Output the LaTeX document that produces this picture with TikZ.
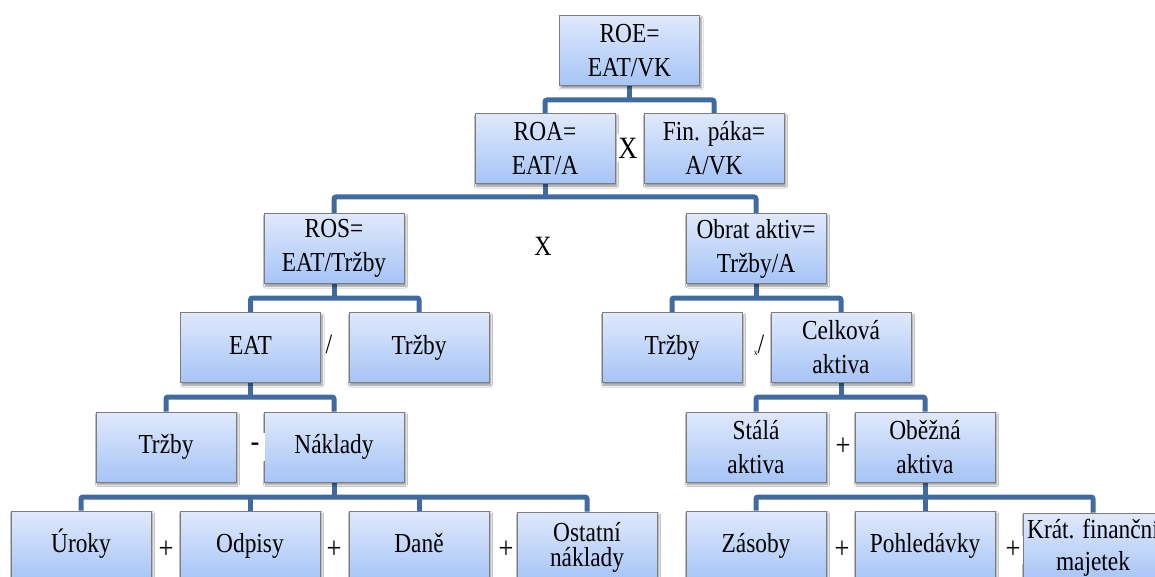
\documentclass[tikz,border=0pt]{standalone}
\usepackage{fontspec}
\setmainfont{Liberation Serif}[FakeStretch=0.85]
\usetikzlibrary{shadows.blur,backgrounds}

\definecolor{linkblue}{RGB}{64,107,160}
\definecolor{boxtop}{RGB}{224,233,252}
\definecolor{boxbot}{RGB}{166,196,246}
\definecolor{boxedge}{RGB}{125,125,125}

\tikzset{
  ratio/.style={draw=boxedge, line width=0.9pt, top color=boxtop, bottom color=boxbot,
    minimum width=140pt, minimum height=70pt, inner sep=2pt, align=center,
    font=\fontsize{27.5}{34}\selectfont,
    blur shadow={shadow xshift=1.5pt, shadow yshift=-2.5pt, shadow blur steps=6,
      shadow blur radius=2pt, shadow opacity=45}},
  oneline/.style={ratio, text height=19pt, text depth=6pt},
  link/.style={draw=linkblue, line width=5pt, rounded corners=2pt},
  op/.style={font=\fontsize{31}{31}\selectfont, inner sep=1pt, fill=white,
    minimum width=20pt, minimum height=28pt}
}

\begin{document}
\begin{tikzpicture}[x=1pt, y=-1pt]
\useasboundingbox (0,0) rectangle (1155,577);

% level 0 and 1
\node[ratio] (roe) at (629.5,50.5) {ROE=\\EAT/VK};
\node[ratio] (roa) at (545,148.5) {ROA=\\EAT/A};
\node[ratio] (fin) at (714,148.5) {Fin. páka=\\A/VK};

% level 2
\node[ratio] (ros) at (334,248.5) {ROS=\\EAT/Tržby};
\node[ratio] (obrat) at (756,248.5) {Obrat aktiv=\\Tržby/A};

% level 3
\node[oneline] (eat) at (250.5,347.5) {EAT};
\node[oneline] (trzbyA) at (419,347.5) {Tržby};
\node[oneline] (trzbyB) at (672,347.5) {Tržby};
\node[ratio] (celk) at (841,347.5) {Celková\\aktiva};

% level 4
\node[oneline] (trzbyC) at (166,447) {Tržby};
\node[oneline] (nakl) at (334,447) {Náklady};
\node[ratio] (stala) at (756,447) {Stálá\\aktiva};
\node[ratio] (obez) at (925,447) {Oběžná\\aktiva};

% level 5
\node[oneline] (uroky) at (81,546) {Úroky};
\node[oneline] (odpisy) at (250,546) {Odpisy};
\node[oneline] (dane) at (419,546) {Daně};
\node[ratio, font=\fontsize{27.5}{25}\selectfont] (ostatni) at (587,547) {Ostatní\\náklady};
\node[oneline] (zasoby) at (756,546) {Zásoby};
\node[oneline] (pohl) at (925,546) {Pohledávky};
\node[ratio, font=\fontsize{27.5}{32}\selectfont] (krat) at (1093,548) {Krát. finanční\\majetek};

% bus junctions
\coordinate (b1) at (629.5,100);
\coordinate (b2) at (545,197);
\coordinate (b3) at (334,298);
\coordinate (b4) at (756,298);
\coordinate (b5) at (250.5,397);
\coordinate (b6) at (841,397);
\coordinate (b7) at (334,497);
\coordinate (b8) at (925,497);

\begin{scope}[on background layer]
  \fill[white] (0,0) rectangle (1155,577);
  \draw[link] (roe.south) -- (b1);
  \draw[link] (roa.north) |- (b1) -| (fin.north);
  \draw[link] (roa.south) -- (b2);
  \draw[link] (ros.north) |- (b2) -| (obrat.north);
  \draw[link] (ros.south) -- (b3);
  \draw[link] (eat.north) |- (b3) -| (trzbyA.north);
  \draw[link] (obrat.south) -- (b4);
  \draw[link] (trzbyB.north) |- (b4) -| (celk.north);
  \draw[link] (eat.south) -- (b5);
  \draw[link] (trzbyC.north) |- (b5) -| (nakl.north);
  \draw[link] (celk.south) -- (b6);
  \draw[link] (stala.north) |- (b6) -| (obez.north);
  \draw[link] (nakl.south) -- (b7);
  \draw[link] (uroky.north) |- (b7) -| (ostatni.north);
  \draw[link] (odpisy.north) -- (odpisy.north |- b7);
  \draw[link] (dane.north) -- (dane.north |- b7);
  \draw[link] (obez.south) -- (b8);
  \draw[link] (zasoby.north) |- (b8) -| (krat.north);
  \draw[link] (pohl.north) -- (pohl.north |- b8);
\end{scope}

% operators between the boxes
\node[op, font=\fontsize{31}{31}\selectfont] (opx1) at (628,148) {X};
\node[op, fill=none, font=\fontsize{28}{28}\selectfont] (opx2) at (543,246) {X};
\node[op, fill=none, font=\fontsize{28}{28}\selectfont] (opd1) at (329,344) {/};
\node[op, font=\fontsize{28}{28}\selectfont] (opd2) at (759,345) {\raisebox{-2pt}{\fontsize{9}{9}\selectfont x}/};
\node[op] (opm) at (255,447) {-};
\node[op] (opp1) at (843,447) {+};
\node[op] (opp2) at (166,550) {+};
\node[op] (opp3) at (334,550) {+};
\node[op] (opp4) at (506,550) {+};
\node[op] (opp5) at (842,550) {+};
\node[op] (opp6) at (1013,550) {+};
\end{tikzpicture}
\end{document}
